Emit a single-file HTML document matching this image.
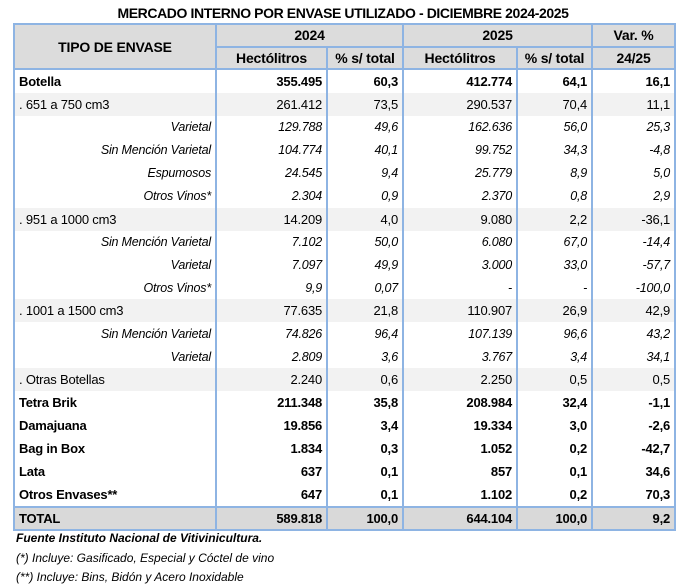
<!DOCTYPE html>
<html><head><meta charset="utf-8"><style>
body{margin:0;width:686px;height:586px;background:#fff;font-family:"Liberation Sans",Arial,sans-serif;overflow:hidden;position:relative}
.title{position:absolute;left:0;width:686px;top:5px;text-align:center;font-weight:bold;font-size:14px;letter-spacing:-0.4px}
table{position:absolute;left:13px;top:23px;border-collapse:collapse;table-layout:fixed;width:661px;font-size:13px;letter-spacing:-0.2px}
td{padding:0 4px;height:22.95px;text-align:right;white-space:nowrap;border-left:2px solid #8eb4e3;border-right:2px solid #8eb4e3}
td.l{text-align:left}
td.i{font-style:italic;font-size:12.5px}
tr.h td{background:#dcdcdc;font-weight:bold;text-align:center;border:2px solid #8eb4e3;font-size:14px;height:20.5px}
tr.g td{background:#f2f2f2}
tr.b td{font-weight:bold}
tr.t td{background:#d9d9d9;font-weight:bold;border:2px solid #8eb4e3;height:21px}
.f{position:absolute;left:16px;font-size:12px;font-style:italic}
</style></head><body>
<div class="title">MERCADO INTERNO POR ENVASE UTILIZADO - DICIEMBRE 2024-2025</div>
<table>
<colgroup><col style="width:202px"><col style="width:111px"><col style="width:76px"><col style="width:114px"><col style="width:75px"><col style="width:83px"></colgroup>
<tr class="h"><td rowspan="2" style="height:43px">TIPO DE ENVASE</td><td colspan="2">2024</td><td colspan="2">2025</td><td>Var. %</td></tr>
<tr class="h"><td>Hectólitros</td><td>% s/ total</td><td>Hectólitros</td><td>% s/ total</td><td>24/25</td></tr>
<tr class="b"><td class="l">Botella</td><td>355.495</td><td>60,3</td><td>412.774</td><td>64,1</td><td>16,1</td></tr>
<tr class="g"><td class="l">. 651 a 750 cm3</td><td>261.412</td><td>73,5</td><td>290.537</td><td>70,4</td><td>11,1</td></tr>
<tr><td class="i">Varietal</td><td class="i">129.788</td><td class="i">49,6</td><td class="i">162.636</td><td class="i">56,0</td><td class="i">25,3</td></tr>
<tr><td class="i">Sin Mención Varietal</td><td class="i">104.774</td><td class="i">40,1</td><td class="i">99.752</td><td class="i">34,3</td><td class="i">-4,8</td></tr>
<tr><td class="i">Espumosos</td><td class="i">24.545</td><td class="i">9,4</td><td class="i">25.779</td><td class="i">8,9</td><td class="i">5,0</td></tr>
<tr><td class="i">Otros Vinos*</td><td class="i">2.304</td><td class="i">0,9</td><td class="i">2.370</td><td class="i">0,8</td><td class="i">2,9</td></tr>
<tr class="g"><td class="l">. 951 a 1000 cm3</td><td>14.209</td><td>4,0</td><td>9.080</td><td>2,2</td><td>-36,1</td></tr>
<tr><td class="i">Sin Mención Varietal</td><td class="i">7.102</td><td class="i">50,0</td><td class="i">6.080</td><td class="i">67,0</td><td class="i">-14,4</td></tr>
<tr><td class="i">Varietal</td><td class="i">7.097</td><td class="i">49,9</td><td class="i">3.000</td><td class="i">33,0</td><td class="i">-57,7</td></tr>
<tr><td class="i">Otros Vinos*</td><td class="i">9,9</td><td class="i">0,07</td><td class="i">-</td><td class="i">-</td><td class="i">-100,0</td></tr>
<tr class="g"><td class="l">. 1001 a 1500 cm3</td><td>77.635</td><td>21,8</td><td>110.907</td><td>26,9</td><td>42,9</td></tr>
<tr><td class="i">Sin Mención Varietal</td><td class="i">74.826</td><td class="i">96,4</td><td class="i">107.139</td><td class="i">96,6</td><td class="i">43,2</td></tr>
<tr><td class="i">Varietal</td><td class="i">2.809</td><td class="i">3,6</td><td class="i">3.767</td><td class="i">3,4</td><td class="i">34,1</td></tr>
<tr class="g"><td class="l">. Otras Botellas</td><td>2.240</td><td>0,6</td><td>2.250</td><td>0,5</td><td>0,5</td></tr>
<tr class="b"><td class="l">Tetra Brik</td><td>211.348</td><td>35,8</td><td>208.984</td><td>32,4</td><td>-1,1</td></tr>
<tr class="b"><td class="l">Damajuana</td><td>19.856</td><td>3,4</td><td>19.334</td><td>3,0</td><td>-2,6</td></tr>
<tr class="b"><td class="l">Bag in Box</td><td>1.834</td><td>0,3</td><td>1.052</td><td>0,2</td><td>-42,7</td></tr>
<tr class="b"><td class="l">Lata</td><td>637</td><td>0,1</td><td>857</td><td>0,1</td><td>34,6</td></tr>
<tr class="b"><td class="l">Otros Envases**</td><td>647</td><td>0,1</td><td>1.102</td><td>0,2</td><td>70,3</td></tr>
<tr class="t"><td class="l">TOTAL</td><td>589.818</td><td>100,0</td><td>644.104</td><td>100,0</td><td>9,2</td></tr>
</table>
<div class="f" style="top:531px;font-weight:bold">Fuente Instituto Nacional de Vitivinicultura.</div>
<div class="f" style="top:551px">(*) Incluye: Gasificado, Especial y Cóctel de vino</div>
<div class="f" style="top:570px">(**) Incluye: Bins, Bidón y Acero Inoxidable</div>
</body></html>
